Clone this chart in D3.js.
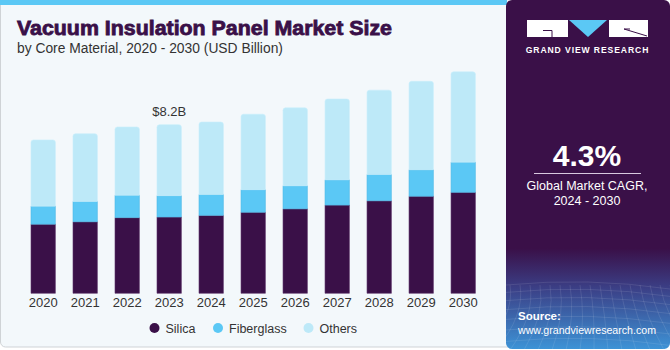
<!DOCTYPE html>
<html><head><meta charset="utf-8">
<script src="https://cdn.jsdelivr.net/npm/d3@7"></script>
<style>html,body{margin:0;padding:0;background:#fff;}svg{display:block;font-family:"Liberation Sans",Arial,sans-serif;}</style>
</head><body>
<script>
const years = ["2020","2021","2022","2023","2024","2025","2026","2027","2028","2029","2030"];
const silica =     [3.36,3.48,3.68,3.71,3.79,3.94,4.11,4.29,4.50,4.72,4.91];
const fiberglass = [0.88,0.99,1.09,1.04,1.02,1.10,1.12,1.23,1.28,1.29,1.47];
const others =     [3.22,3.29,3.32,3.45,3.52,3.67,3.79,3.93,4.10,4.30,4.39];
const seriesNames = ["Silica","Fiberglass","Others"];
const colors = ["#3a1048","#5bc8f5","#bde9f8"];
const annotation = {year:"2023", text:"$8.2B"};

const W=670,H=350;
const svg=d3.select("body").append("svg").attr("width",W).attr("height",H);
const defs=svg.append("defs");

function fitText(sel,target){
  const fs=parseFloat(sel.attr("font-size"));
  const w=sel.node().getComputedTextLength();
  if(w>0) sel.attr("font-size",(fs*target/w).toFixed(2));
}

// left panel
svg.append("rect").attr("x",0.5).attr("y",-6).attr("width",512).attr("height",353).attr("rx",5)
  .attr("fill","#f3f8fb").attr("stroke","#cfd3d6");
svg.append("rect").attr("x",0).attr("y",0).attr("width",507).attr("height",5).attr("fill","#5bc8f5");

// right panel
const g1=defs.append("linearGradient").attr("id","rp").attr("x1",0).attr("y1",0).attr("x2",0).attr("y2",1);
g1.append("stop").attr("offset","0").attr("stop-color","#3a1048");
g1.append("stop").attr("offset","0.72").attr("stop-color","#3a1048");
g1.append("stop").attr("offset","0.83").attr("stop-color","#3b3f86");
g1.append("stop").attr("offset","1").attr("stop-color","#3d93d6");
const clip=defs.append("clipPath").attr("id","rpc");
clip.append("rect").attr("x",506).attr("y",0).attr("width",164).attr("height",349).attr("rx",6);
const rp=svg.append("g").attr("clip-path","url(#rpc)");
rp.append("rect").attr("x",506).attr("y",-10).attr("width",174).attr("height",359).attr("fill","url(#rp)");
const mesh=rp.append("g").attr("stroke","#ffffff").attr("stroke-opacity",0.13).attr("fill","none").attr("stroke-width",0.8);
for(let i=0;i<10;i++){const yy=285+i*7+i*i*0.4;mesh.append("path").attr("d",`M506,${yy} Q588,${yy-8} 670,${yy+4}`);}
for(let i=0;i<18;i++){const xx=500+i*10;mesh.append("path").attr("d",`M${xx},285 Q${xx+5},315 ${xx+(i-8)*4},350`);}

// logo
const logo=svg.append("g");
logo.append("rect").attr("x",527).attr("y",20).attr("width",41).attr("height",17).attr("fill","#fff");
logo.append("path").attr("d","M543,30.5 H552 V37").attr("stroke","#3a1048").attr("stroke-width",1).attr("fill","none");
logo.append("path").attr("d","M569,20 L607,20 L588,37 Z").attr("fill","#5bc8f5");
logo.append("rect").attr("x",609).attr("y",20).attr("width",39).attr("height",17).attr("fill","#fff");
logo.append("path").attr("d","M624,29 L647,36").attr("stroke","#3a1048").attr("stroke-width",1);
logo.append("path").attr("d","M624,29 H630").attr("stroke","#3a1048").attr("stroke-width",1);
svg.append("text").attr("x",587.5).attr("y",53).attr("text-anchor","middle").attr("fill","#fff")
  .attr("font-size",8.6).attr("font-weight","bold").attr("letter-spacing",0.9).text("GRAND VIEW RESEARCH");

svg.append("text").attr("x",587).attr("y",166).attr("text-anchor","middle").attr("fill","#fff")
  .attr("font-size",30).attr("font-weight","bold").text("4.3%");
svg.append("line").attr("x1",534).attr("x2",641).attr("y1",173.5).attr("y2",173.5).attr("stroke","#d8c8e0").attr("stroke-width",1);
svg.append("text").attr("x",587).attr("y",190).attr("text-anchor","middle").attr("fill","#fff").attr("font-size",12.5).text("Global Market CAGR,");
svg.append("text").attr("x",587).attr("y",205).attr("text-anchor","middle").attr("fill","#fff").attr("font-size",12.5).text("2024 - 2030");
svg.append("text").attr("x",518).attr("y",320).attr("fill","#fff").attr("font-size",11.5).attr("font-weight","bold").text("Source:");
const src=svg.append("text").attr("x",518).attr("y",334).attr("fill","#fff").attr("font-size",11.5).text("www.grandviewresearch.com");
fitText(src,138);

// titles
svg.append("text").attr("x",17).attr("y",35).attr("fill","#3a1048").attr("font-size",19.5)
  .attr("font-weight","bold").attr("stroke","#3a1048").attr("stroke-width",0.8)
  .attr("textLength",375).attr("lengthAdjust","spacingAndGlyphs")
  .text("Vacuum Insulation Panel Market Size");
const sub=svg.append("text").attr("x",17).attr("y",53).attr("fill","#333").attr("font-size",13.5).text("by Core Material, 2020 - 2030 (USD Billion)");
fitText(sub,266);

// scales
const x=d3.scaleBand().domain(years).range([31,475.4]).paddingInner(0.42).paddingOuter(0);
const y=d3.scaleLinear().domain([0,10]).range([293.3,87.7]);
const data=years.map((yr,i)=>({year:yr,Silica:silica[i],Fiberglass:fiberglass[i],Others:others[i]}));
const stack=d3.stack().keys(seriesNames)(data);

const bars=svg.append("g");
stack.forEach((layer,li)=>{
  bars.append("g").selectAll("path").data(layer).join("path")
    .attr("fill",colors[li])
    .attr("stroke",li===0?"#5a3068":(li===1?"#4fb8e6":"#c9eefb")).attr("stroke-width",0.6)
    .attr("d",d=>{
      const x0=x(d.data.year),w=x.bandwidth(),yt=y(d[1]),yb=y(d[0]);
      if(li===2){const r=2.5;return `M${x0},${yb} V${yt+r} Q${x0},${yt} ${x0+r},${yt} H${x0+w-r} Q${x0+w},${yt} ${x0+w},${yt+r} V${yb} Z`;}
      return `M${x0},${yb} V${yt} H${x0+w} V${yb} Z`;
    });
});

// axis
const ax=svg.append("g").attr("transform","translate(0,295)").call(d3.axisBottom(x).tickSize(0).tickPadding(3));
ax.select(".domain").remove();
ax.selectAll("text").attr("font-size",13).attr("fill","#333").attr("font-family","'Liberation Sans',Arial,sans-serif");

// annotation
const ai=years.indexOf(annotation.year);
svg.append("text").attr("x",x(annotation.year)+x.bandwidth()/2).attr("y",y(silica[ai]+fiberglass[ai]+others[ai])-9)
  .attr("text-anchor","middle").attr("fill","#333").attr("font-size",13).text(annotation.text);

// legend
const legX=[154.5,218,308.5];
const leg=svg.append("g");
seriesNames.forEach((n,i)=>{
  leg.append("circle").attr("cx",legX[i]).attr("cy",328).attr("r",5).attr("fill",colors[i]);
  leg.append("text").attr("x",legX[i]+11).attr("y",332.5).attr("fill","#333").attr("font-size",12.5).text(n);
});
</script>
</body></html>
